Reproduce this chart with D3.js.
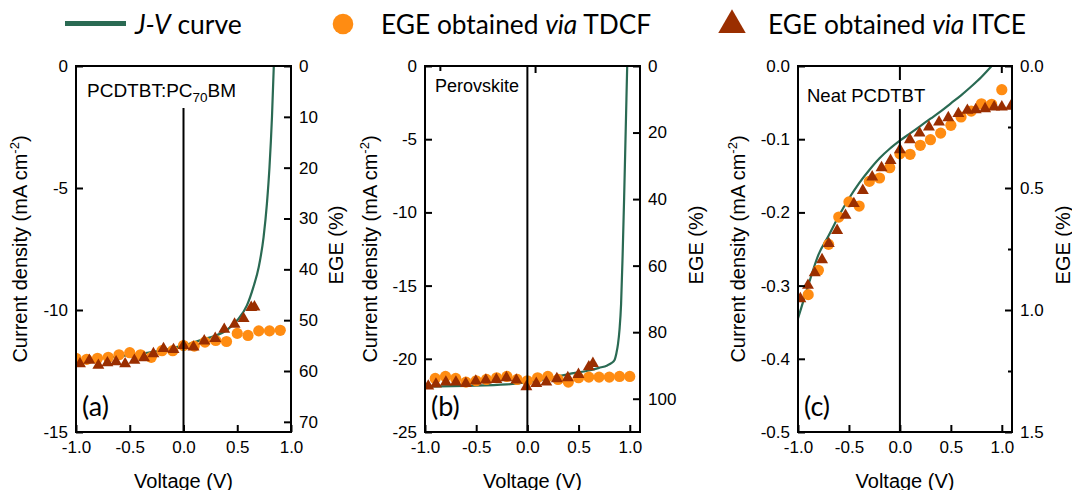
<!DOCTYPE html>
<meta charset="utf-8">
<head>
<script src="https://d3js.org/d3.v7.min.js"></script>
<style>
  body { margin: 0; background: #fff; }
  text { font-family: "Liberation Sans", Arial, sans-serif; fill: #000; }
  .lato { font-family: Lato, "Open Sans", sans-serif; }
</style>
</head>

<body>
<div id="chart"></div>

<script>

var width = 1072, height = 490;

// ---- panel (a) PCDTBT:PC70BM ----
var jvA_volt = [-1.0, -0.8, -0.6, -0.4, -0.2, 0.0, 0.1, 0.2, 0.28, 0.4, 0.5, 0.59, 0.65, 0.7, 0.745, 0.776, 0.8, 0.823, 0.84];
var jvA_curr = [-12.1, -12.0, -11.9, -11.79, -11.65, -11.45, -11.32, -11.18, -11.08, -10.83, -10.42, -9.81, -9.06, -8.24, -7.01, -5.64, -4.14, -2.09, 0];
var tdcfA_volt = [-1.0, -0.9, -0.8, -0.7, -0.6, -0.5, -0.4, -0.3, -0.2, -0.1, 0.0, 0.1, 0.2, 0.3, 0.4, 0.5, 0.6, 0.7, 0.8, 0.9];
var tdcfA_ege = [57.5, 57.7, 57.5, 57.3, 56.8, 56.4, 56.8, 57.3, 56.0, 56.0, 55.0, 55.1, 54.3, 54.0, 54.2, 52.6, 53.0, 52.1, 52.1, 52.0];
var itceA_volt = [-0.963, -0.876, -0.792, -0.708, -0.627, -0.543, -0.457, -0.367, -0.28, -0.186, -0.093, 0.0, 0.093, 0.193, 0.295, 0.379, 0.475, 0.559, 0.63, 0.66];
var itceA_ege = [58.6, 57.9, 58.9, 58.4, 58.2, 58.6, 57.9, 57.4, 56.6, 55.6, 55.8, 55.0, 55.3, 54.1, 53.6, 51.8, 50.8, 49.7, 47.5, 47.4];

// ---- panel (b) Perovskite ----
var jvB_volt = [-1.0, -0.6, -0.2, 0.0, 0.2, 0.4, 0.6, 0.7, 0.78, 0.82, 0.85, 0.87, 0.885, 0.9, 0.915, 0.93, 0.945, 0.96, 0.975];
var jvB_curr = [-21.9, -21.85, -21.75, -21.6, -21.35, -21.05, -20.8, -20.62, -20.45, -20.3, -20.1, -19.6, -19.0, -18.0, -16.3, -13.0, -9.0, -4.5, 0];
var tdcfB_volt = [-0.9, -0.8, -0.7, -0.6, -0.5, -0.4, -0.3, -0.2, -0.1, 0.0, 0.1, 0.2, 0.3, 0.4, 0.5, 0.6, 0.7, 0.8, 0.9, 1.0];
var tdcfB_ege = [93.9, 93.3, 93.9, 95.0, 94.6, 94.2, 93.7, 93.3, 94.2, 94.6, 93.7, 93.3, 94.2, 95.0, 93.7, 93.5, 93.5, 93.5, 93.3, 93.3];
var itceB_volt = [-0.968, -0.893, -0.796, -0.698, -0.601, -0.504, -0.406, -0.303, -0.205, -0.108, -0.01, 0.087, 0.185, 0.288, 0.395, 0.499, 0.6, 0.64];
var itceB_ege = [96.2, 95.6, 95.0, 95.0, 95.4, 94.7, 94.4, 94.2, 93.7, 94.4, 96.4, 95.4, 95.0, 94.0, 93.7, 92.7, 90.4, 89.4];

// ---- panel (c) Neat PCDTBT ----
var jvC_volt = [-1.0, -0.9, -0.8, -0.7, -0.6, -0.5, -0.4, -0.3, -0.2, -0.1, 0.0, 0.1, 0.2, 0.3, 0.4, 0.5, 0.6, 0.7, 0.8, 0.9];
var jvC_curr = [-0.345, -0.3, -0.258, -0.232, -0.205, -0.181, -0.16, -0.142, -0.126, -0.113, -0.102, -0.092, -0.082, -0.072, -0.062, -0.051, -0.04, -0.028, -0.015, 0.0];
var tdcfC_volt = [-0.9, -0.8, -0.7, -0.6, -0.5, -0.4, -0.3, -0.2, -0.1, 0.0, 0.1, 0.2, 0.3, 0.4, 0.5, 0.6, 0.7, 0.8, 0.9, 1.0];
var tdcfC_ege = [0.937, 0.837, 0.731, 0.619, 0.557, 0.574, 0.473, 0.459, 0.417, 0.36, 0.362, 0.325, 0.302, 0.275, 0.243, 0.209, 0.185, 0.155, 0.157, 0.097];
var itceC_volt = [-0.977, -0.902, -0.836, -0.764, -0.698, -0.616, -0.534, -0.452, -0.364, -0.272, -0.18, -0.092, 0.0, 0.098, 0.193, 0.285, 0.384, 0.475, 0.574, 0.662, 0.744, 0.836, 0.925, 1.0, 1.089];
var itceC_ege = [0.954, 0.899, 0.848, 0.794, 0.728, 0.674, 0.612, 0.564, 0.51, 0.455, 0.417, 0.387, 0.343, 0.302, 0.275, 0.25, 0.23, 0.212, 0.195, 0.182, 0.179, 0.175, 0.168, 0.168, 0.165];

var voltTicks = [-1.0, -0.5, 0.0, 0.5, 1.0];

var green = "#2a6a53", orange = "#ff8c12", brown = "#9a2e00";
var plotTop = 66, plotBottom = 432;

var panels = [
  {tag: "(a)", label: ["PCDTBT:PC", "70", "BM"], fs: 19, left: 76, w: 215, xmax: 1.0,
   jmin: -15, jTicks: [0, -5, -10, -15], jFmt: function(d) { return String(d); },
   egeMax: 72, egeTicks: [0, 10, 20, 30, 40, 50, 60, 70], egeMinor: [], egeFmt: function(d) { return String(d); },
   jvV: jvA_volt, jvJ: jvA_curr, tV: tdcfA_volt, tE: tdcfA_ege, iV: itceA_volt, iE: itceA_ege,
   topTicks: [], lab: [11, 31], boxToTop: true, ytl: -49, ytr: 52},
  {tag: "(b)", label: ["Perovskite"], fs: 18, left: 425, w: 215, xmax: 1.1,
   jmin: -25, jTicks: [0, -5, -10, -15, -20, -25], jFmt: function(d) { return String(d); },
   egeMax: 110, egeTicks: [0, 20, 40, 60, 80, 100], egeMinor: [], egeFmt: function(d) { return String(d); },
   jvV: jvB_volt, jvJ: jvB_curr, tV: tdcfB_volt, tE: tdcfB_ege, iV: itceB_volt, iE: itceB_ege,
   topTicks: [-0.85, 0.08], lab: [10, 26], boxToTop: false, ytl: -48, ytr: 63},
  {tag: "(c)", label: ["Neat PCDTBT"], fs: 18.5, left: 798, w: 214, xmax: 1.1,
   jmin: -0.5, jTicks: [0, -0.1, -0.2, -0.3, -0.4, -0.5], jFmt: function(d) { return d.toFixed(1); },
   egeMax: 1.5, egeTicks: [0, 0.5, 1.0, 1.5], egeMinor: [0.25, 0.75, 1.25], egeFmt: function(d) { return d.toFixed(1); },
   jvV: jvC_volt, jvJ: jvC_curr, tV: tdcfC_volt, tE: tdcfC_ege, iV: itceC_volt, iE: itceC_ege,
   topTicks: [1.0], lab: [9, 36], boxToTop: false, ytl: -53, ytr: 58}
];

var svg = d3.select("#chart").append("svg")
  .attr("width", width)
  .attr("height", height)
  .style("background", "#fff");

// legend
var legend = svg.append("g");
legend.append("line").attr("x1", 65).attr("x2", 126).attr("y1", 23.5).attr("y2", 23.5)
  .attr("stroke", green).attr("stroke-width", 5);
var t1 = legend.append("text").attr("class", "lato").attr("x", 135).attr("y", 34).style("font-size", "26.5px");
t1.append("tspan").style("font-style", "italic").text("J-V");
t1.append("tspan").text(" curve");
legend.append("circle").attr("cx", 343).attr("cy", 24).attr("r", 10.3).attr("fill", orange);
var t2 = legend.append("text").attr("class", "lato").attr("x", 381).attr("y", 34).style("font-size", "26.3px");
t2.append("tspan").text("EGE obtained ");
t2.append("tspan").style("font-style", "italic").text("via");
t2.append("tspan").text(" TDCF");
legend.append("path").attr("d", d3.symbol(d3.symbolTriangle, 327)()).attr("transform", "translate(732,25)").attr("fill", brown);
var t3 = legend.append("text").attr("class", "lato").attr("x", 768).attr("y", 34).style("font-size", "26.3px");
t3.append("tspan").text("EGE obtained ");
t3.append("tspan").style("font-style", "italic").text("via");
t3.append("tspan").text(" ITCE");

panels.forEach(drawPanel);

function styleAxis(g) {
  g.select(".domain").remove();
  g.selectAll(".tick line").attr("stroke", "#000").attr("stroke-width", 2);
  g.selectAll(".tick text").style("font-size", "17px").attr("fill", "#000")
    .style("font-family", "'Liberation Sans', Arial, sans-serif");
}

function drawPanel(p, i) {
  var g = svg.append("g");
  var right = p.left + p.w;

  var x = d3.scaleLinear().domain([-1, p.xmax]).range([p.left, right]);
  var y = d3.scaleLinear().domain([p.jmin, 0]).range([plotBottom, plotTop]);
  var y2 = d3.scaleLinear().domain([0, p.egeMax]).range([plotTop, plotBottom]);

  g.append("clipPath").attr("id", "clip" + i)
    .append("rect").attr("x", p.left).attr("y", plotTop).attr("width", p.w).attr("height", plotBottom - plotTop);

  var plot = g.append("g").attr("clip-path", "url(#clip" + i + ")");

  var line = d3.line()
    .x(function(d) { return x(d[0]); })
    .y(function(d) { return y(d[1]); })
    .curve(d3.curveMonotoneX);

  plot.append("path")
    .datum(d3.zip(p.jvV, p.jvJ))
    .attr("d", line)
    .attr("fill", "none")
    .attr("stroke", green)
    .attr("stroke-width", 2.2);

  plot.selectAll("circle")
    .data(d3.zip(p.tV, p.tE))
    .enter().append("circle")
    .attr("cx", function(d) { return x(d[0]); })
    .attr("cy", function(d) { return y2(d[1]); })
    .attr("r", 5.6)
    .attr("fill", orange);

  plot.selectAll(".tri")
    .data(d3.zip(p.iV, p.iE))
    .enter().append("path")
    .attr("class", "tri")
    .attr("d", d3.symbol(d3.symbolTriangle, 62)())
    .attr("transform", function(d) { return "translate(" + x(d[0]) + "," + y2(d[1]) + ")"; })
    .attr("fill", brown);

  // zero voltage line
  g.append("line")
    .attr("x1", x(0)).attr("x2", x(0))
    .attr("y1", plotTop).attr("y2", plotBottom)
    .attr("stroke", "#000").attr("stroke-width", 2);

  // top ticks
  g.selectAll(".ttick")
    .data(p.topTicks)
    .enter().append("line")
    .attr("x1", function(d) { return x(d); }).attr("x2", function(d) { return x(d); })
    .attr("y1", plotTop).attr("y2", plotTop + 7)
    .attr("stroke", "#000").attr("stroke-width", 2);

  // sample label with white box
  var lbl = g.append("text")
    .attr("x", p.left + p.lab[0])
    .attr("y", plotTop + p.lab[1])
    .style("font-size", p.fs + "px");
  lbl.append("tspan").text(p.label[0]);
  if (p.label.length > 1) {
    lbl.append("tspan").attr("dy", 5).style("font-size", "13.5px").text(p.label[1]);
    lbl.append("tspan").attr("dy", -5).text(p.label[2]);
  }
  var bb = lbl.node().getBBox();
  var by = p.boxToTop ? plotTop + 1 : bb.y - 5;
  g.insert("rect", "text")
    .attr("x", bb.x - 5).attr("y", by)
    .attr("width", bb.width + 10).attr("height", bb.y + bb.height + 3 - by)
    .attr("fill", "#fff");

  // panel tag
  g.append("text").attr("class", "lato")
    .attr("x", p.left + 6).attr("y", 416)
    .style("font-size", "27px")
    .text(p.tag);

  // frame
  g.append("rect")
    .attr("x", p.left).attr("y", plotTop)
    .attr("width", p.w).attr("height", plotBottom - plotTop)
    .attr("fill", "none").attr("stroke", "#000").attr("stroke-width", 2);

  // axes
  g.append("g").attr("transform", "translate(0," + plotBottom + ")")
    .call(d3.axisBottom(x).tickValues(voltTicks).tickSizeInner(-7).tickSizeOuter(0).tickPadding(9)
      .tickFormat(function(d) { return d.toFixed(1); }))
    .call(styleAxis);

  g.append("g").attr("transform", "translate(" + p.left + ",0)")
    .call(d3.axisLeft(y).tickValues(p.jTicks).tickSizeInner(-7).tickSizeOuter(0).tickPadding(8)
      .tickFormat(p.jFmt))
    .call(styleAxis);

  g.append("g").attr("transform", "translate(" + right + ",0)")
    .call(d3.axisRight(y2).tickValues(p.egeTicks).tickSizeInner(-7).tickSizeOuter(0).tickPadding(8)
      .tickFormat(p.egeFmt))
    .call(styleAxis);

  if (p.egeMinor.length) {
    g.append("g").attr("transform", "translate(" + right + ",0)")
      .call(d3.axisRight(y2).tickValues(p.egeMinor).tickSizeInner(-4).tickSizeOuter(0).tickFormat(""))
      .call(styleAxis);
  }

  // axis titles
  var cy = (plotTop + plotBottom) / 2;
  var tl = g.append("text")
    .attr("transform", "translate(" + (p.left + p.ytl) + "," + cy + ") rotate(-90)")
    .attr("text-anchor", "middle")
    .style("font-size", "20px");
  tl.append("tspan").text("Current density (mA cm");
  tl.append("tspan").attr("dy", -8).style("font-size", "13px").text("-2");
  tl.append("tspan").attr("dy", 8).text(")");

  g.append("text")
    .attr("transform", "translate(" + (right + p.ytr) + "," + (cy - 4) + ") rotate(-90)")
    .attr("text-anchor", "middle")
    .style("font-size", "20px")
    .text("EGE (%)");

  g.append("text")
    .attr("x", (p.left + right) / 2).attr("y", 488)
    .attr("text-anchor", "middle")
    .style("font-size", "20px")
    .text("Voltage (V)");
}

</script>
</body>
